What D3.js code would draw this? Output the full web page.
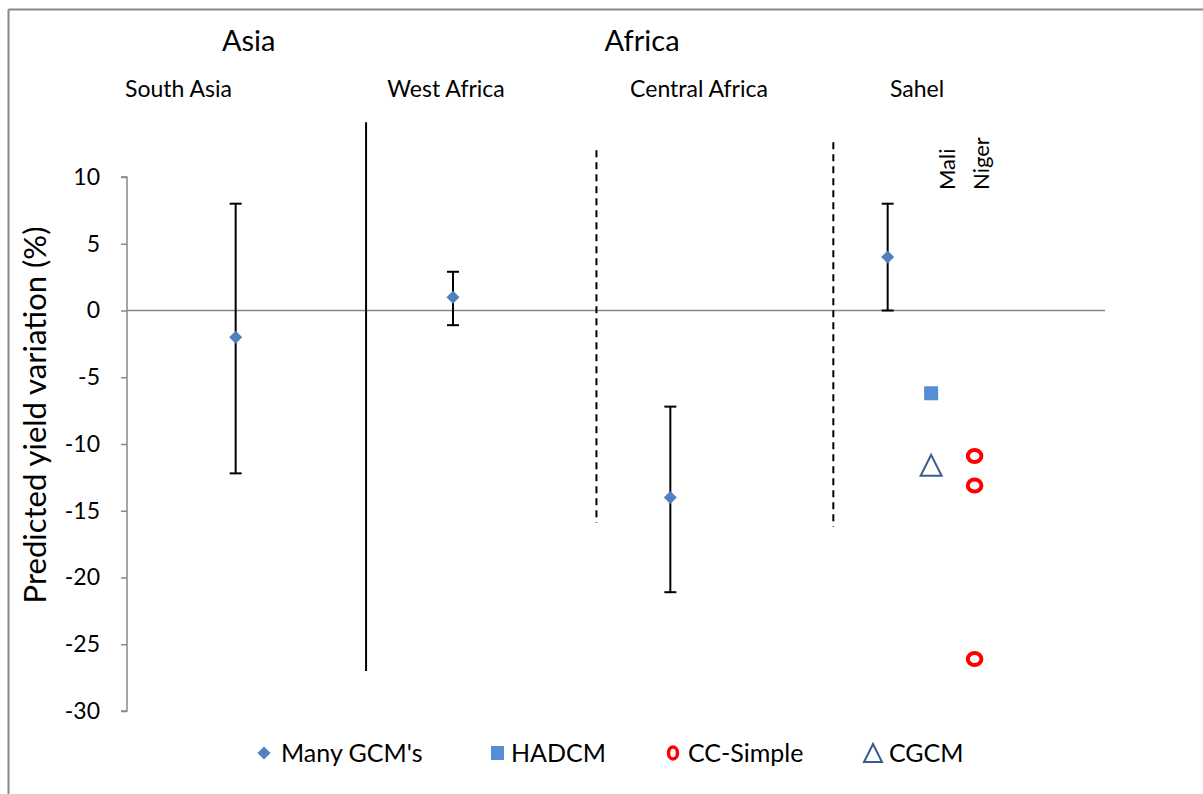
<!DOCTYPE html>
<html><head><meta charset="utf-8">
<script src="https://cdn.jsdelivr.net/npm/d3@7"></script>
<style>body{margin:0;background:#fff}svg{display:block}</style>
</head><body>
<script>
// ---- data ----
const regions = ["South Asia", "West Africa", "Central Africa", "Sahel"];
const regionX = [1, 2, 3, 4];
const gcmMean = [-2, 1, -14, 4];
const gcmHigh = [8, 2.9, -7.2, 8];
const gcmLow = [-12.2, -1.1, -21.1, 0];
const countries = ["Mali", "Niger"];
const countryX = [4.2, 4.4];
const hadcm = [{x: 4.2, y: -6.2}];
const cgcm = [{x: 4.2, y: -11.6}];
const ccSimple = [{x: 4.4, y: -10.9}, {x: 4.4, y: -13.1}, {x: 4.4, y: -26.1}];
const yTicks = [10, 5, 0, -5, -10, -15, -20, -25, -30];
const continents = ["Asia", "Africa"];
const separators = [
  {x: 1.6, y1: 14.1, y2: -27, dashed: false},
  {x: 2.66, y1: 12, y2: -15.9, dashed: true},
  {x: 3.75, y1: 12.6, y2: -16.2, dashed: true}
];
const legendItems = ["Many GCM's", "HADCM", "CC-Simple", "CGCM"];

const W = 1203, H = 794;
const svg = d3.select("body").append("svg").attr("width", W).attr("height", H);
const font = "Lato, 'Open Sans', sans-serif";

// frame
svg.append("line").attr("x1", 8.5).attr("x2", W).attr("y1", 9.5).attr("y2", 9.5).attr("stroke", "#888").attr("stroke-width", 2);
svg.append("line").attr("x1", 8.5).attr("x2", 8.5).attr("y1", 9.5).attr("y2", H).attr("stroke", "#888").attr("stroke-width", 2);

const x = d3.scaleLinear().domain([0.5, 5]).range([127, 1105]);
const y = d3.scaleLinear().domain([10, -30]).range([177, 711]);

// y axis
const yAxis = d3.axisLeft(y).tickValues(yTicks).tickSize(6).tickPadding(21).tickFormat(d => String(d));
const gy = svg.append("g").attr("transform", "translate(127,0)").call(yAxis);
gy.select(".domain").attr("stroke", "#888").attr("stroke-width", 1.5).attr("d", "M-6," + y(10) + "H0V" + y(-30) + "H-6");
gy.selectAll(".tick line").attr("stroke", "#888").attr("stroke-width", 1.5);
gy.selectAll(".tick text").attr("font-family", font).attr("font-size", 23).attr("fill", "#000");

// zero line
svg.append("line").attr("x1", x(0.5)).attr("x2", x(5)).attr("y1", y(0)).attr("y2", y(0)).attr("stroke", "#888").attr("stroke-width", 1.5);

// y title
svg.append("text").attr("transform", `translate(46,415) rotate(-90)`).attr("text-anchor", "middle")
  .attr("font-family", font).attr("font-size", 31).text("Predicted yield variation (%)");

// separators
svg.selectAll(".sep").data(separators).enter().append("line")
  .attr("x1", d => x(d.x)).attr("x2", d => x(d.x)).attr("y1", d => y(d.y1)).attr("y2", d => y(d.y2))
  .attr("stroke", "#000").attr("stroke-width", 2).attr("stroke-dasharray", d => d.dashed ? "7,5" : null);

// continent labels
const contX = [1.06, 2.87];
svg.selectAll(".cont").data(continents).enter().append("text")
  .attr("x", (d, i) => x(contX[i])).attr("y", 51).attr("text-anchor", "middle")
  .attr("font-family", font).attr("font-size", 29).text(d => d);

// region labels
const regionLabelX = [0.737, 1.968, 3.132, 4.135];
svg.selectAll(".reg").data(regions).enter().append("text")
  .attr("x", (d, i) => x(regionLabelX[i])).attr("y", 97).attr("text-anchor", "middle")
  .attr("font-family", font).attr("font-size", 23).text(d => d);

// country labels (rotated)
const countryOff = [24, 14];
svg.selectAll(".cty").data(countries).enter().append("text")
  .attr("transform", (d, i) => `translate(${x(countryX[i]) + countryOff[i]},190) rotate(-90)`)
  .attr("font-family", font).attr("font-size", 22).text(d => d);

// error bars
const eb = svg.selectAll(".eb").data(regionX).enter().append("g");
eb.append("line").attr("x1", d => x(d)).attr("x2", d => x(d))
  .attr("y1", (d, i) => y(gcmHigh[i])).attr("y2", (d, i) => y(gcmLow[i])).attr("stroke", "#000").attr("stroke-width", 2);
eb.append("line").attr("x1", d => x(d) - 6).attr("x2", d => x(d) + 6)
  .attr("y1", (d, i) => y(gcmHigh[i])).attr("y2", (d, i) => y(gcmHigh[i])).attr("stroke", "#000").attr("stroke-width", 2);
eb.append("line").attr("x1", d => x(d) - 6).attr("x2", d => x(d) + 6)
  .attr("y1", (d, i) => y(gcmLow[i])).attr("y2", (d, i) => y(gcmLow[i])).attr("stroke", "#000").attr("stroke-width", 2);

// markers
const diamond = (cx, cy, r) => `M${cx},${cy - r}L${cx + r},${cy}L${cx},${cy + r}L${cx - r},${cy}Z`;
const triangle = (cx, cy, s) => `M${cx},${cy - s * 0.5}L${cx + s / 2},${cy + s * 0.5}L${cx - s / 2},${cy + s * 0.5}Z`;

svg.selectAll(".gcm").data(regionX).enter().append("path")
  .attr("d", (d, i) => diamond(x(d), y(gcmMean[i]), 6.5)).attr("fill", "#4F81BD");
svg.selectAll(".had").data(hadcm).enter().append("rect")
  .attr("x", d => x(d.x) - 7).attr("y", d => y(d.y) - 7).attr("width", 14).attr("height", 14).attr("fill", "#558ED5");
svg.selectAll(".cgcm").data(cgcm).enter().append("path")
  .attr("d", d => triangle(x(d.x), y(d.y), 21)).attr("fill", "none").attr("stroke", "#385D8A").attr("stroke-width", 2);
svg.selectAll(".cc").data(ccSimple).enter().append("ellipse")
  .attr("cx", d => x(d.x)).attr("cy", d => y(d.y)).attr("rx", 6.8).attr("ry", 6)
  .attr("fill", "none").attr("stroke", "#FF0000").attr("stroke-width", 4);

// legend
const ly = 753;
const lg = svg.append("g");
lg.append("path").attr("d", diamond(264, ly, 6.5)).attr("fill", "#4F81BD");
lg.append("rect").attr("x", 491).attr("y", ly - 7).attr("width", 13).attr("height", 14).attr("fill", "#558ED5");
lg.append("ellipse").attr("cx", 673).attr("cy", ly).attr("rx", 4.5).attr("ry", 6).attr("fill", "none").attr("stroke", "#FF0000").attr("stroke-width", 3.5);
lg.append("path").attr("d", triangle(873, ly, 18)).attr("fill", "none").attr("stroke", "#385D8A").attr("stroke-width", 2);
const legX = [281, 511, 688, 889];
lg.selectAll("text").data(legendItems).enter().append("text")
  .attr("x", (d, i) => legX[i]).attr("y", ly + 9).attr("font-family", font).attr("font-size", 25).text(d => d);
</script>
</body></html>
